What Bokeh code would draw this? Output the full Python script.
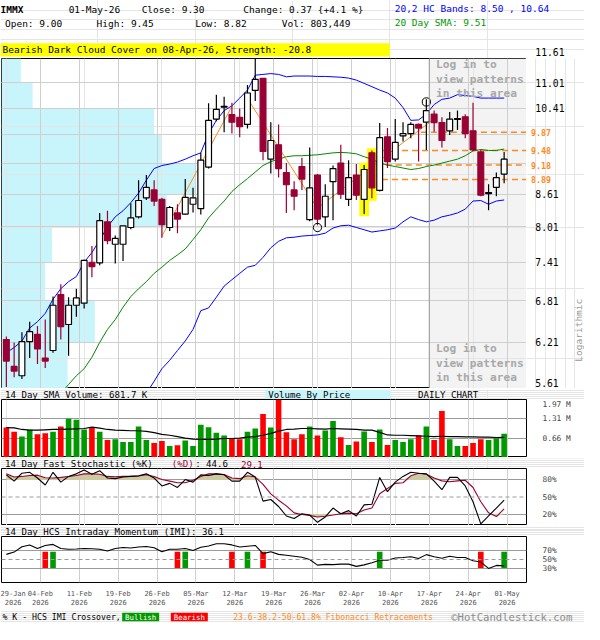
import math
from bokeh.plotting import figure
from bokeh.layouts import column, row
from bokeh.models import ColumnDataSource, FixedTicker, Label, Span, Range1d, Grid
from bokeh.embed import file_html
from bokeh.resources import INLINE
from bokeh.core.properties import value

nan = float("nan")

# ---------------- data ----------------
tick_dates = ["29-Jan", "04-Feb", "11-Feb", "19-Feb", "26-Feb", "05-Mar", "12-Mar",
              "19-Mar", "26-Mar", "02-Apr", "10-Apr", "17-Apr", "24-Apr", "01-May"]
tick_year = "2026"

opens = [6.25, 5.89, 5.77, 6.22, 6.32, 6.00, 6.10, 6.90, 6.46, 6.74,
         6.77, 7.41, 7.40, 8.10, 7.71, 7.71, 8.00, 8.19, 8.54, 8.69,
         8.51, 8.00, 8.26, 8.24, 8.42, 8.34, 9.14, 10.16, 10.43, 10.26,
         10.20, 10.04, 10.82, 11.11, 9.30, 9.60, 9.03, 8.69, 9.15, 8.14,
         8.98, 8.19, 8.85, 9.22, 8.51, 8.98, 8.51, 9.43, 8.68, 9.77,
         9.30, 9.79, 9.84, 10.04, 10.09, 10.27, 10.08, 9.90, 10.15, 10.21,
         9.90, 9.45, 8.62, 8.74, 9.00]
highs = [6.29, 6.21, 6.35, 6.50, 6.44, 6.53, 6.87, 7.06, 6.86, 6.99,
         7.45, 7.68, 8.26, 8.30, 7.86, 8.03, 8.44, 8.88, 8.98, 8.88,
         8.54, 8.39, 8.42, 8.90, 8.73, 9.43, 10.52, 10.72, 10.67, 10.53,
         10.40, 10.95, 11.61, 11.12, 10.09, 10.04, 9.22, 8.86, 9.33, 9.54,
         9.00, 8.80, 9.17, 9.60, 9.28, 9.20, 9.18, 9.48, 10.07, 9.96,
         10.16, 10.09, 10.09, 10.06, 10.61, 10.35, 10.20, 10.32, 10.35, 10.27,
         10.53, 9.50, 8.80, 9.03, 9.45]
lows = [5.63, 5.75, 5.73, 6.00, 5.92, 5.87, 6.07, 6.25, 6.03, 6.57,
        6.69, 7.17, 7.36, 7.71, 7.39, 7.43, 7.97, 8.16, 8.50, 8.39,
        7.82, 7.94, 7.90, 8.23, 8.27, 8.23, 9.11, 10.11, 9.87, 9.84,
        9.76, 9.95, 10.57, 9.28, 9.01, 8.93, 8.26, 8.31, 8.69, 8.11,
        8.04, 8.01, 8.13, 8.52, 8.39, 8.50, 8.24, 8.53, 8.66, 9.12,
        9.25, 9.67, 9.74, 9.25, 9.49, 9.88, 9.54, 9.81, 9.92, 9.74,
        9.47, 8.57, 8.31, 8.57, 8.82]
closes = [5.96, 5.83, 6.22, 6.36, 6.12, 5.96, 6.74, 6.43, 6.74, 6.85,
          7.44, 7.34, 8.12, 7.77, 7.81, 8.03, 8.17, 8.49, 8.74, 8.48,
          8.05, 8.36, 8.15, 8.55, 8.54, 9.28, 10.13, 10.38, 10.45, 10.09,
          9.99, 10.76, 11.09, 9.46, 9.69, 9.11, 8.79, 8.57, 8.90, 8.73,
          8.15, 8.57, 9.11, 8.61, 8.93, 8.59, 9.09, 8.73, 9.75, 9.25,
          9.65, 9.84, 10.04, 9.96, 10.35, 10.08, 9.69, 10.16, 10.17, 9.84,
          9.49, 8.59, 8.64, 8.93, 9.30]

upper_band = [6.07, 6.14, 6.23, 6.41, 6.50, 6.62, 6.83, 6.99, 7.10, 7.18,
              7.41, 7.57, 7.78, 8.01, 8.19, 8.30, 8.45, 8.63, 8.88, 9.11,
              9.17, 9.20, 9.24, 9.30, 9.37, 9.43, 9.84, 10.13, 10.35, 10.46,
              10.64, 10.83, 11.19, 11.21, 11.23, 11.21, 11.15, 11.17, 11.17, 11.17,
              11.16, 11.16, 11.15, 11.14, 11.12, 11.07, 10.99, 10.91, 10.83, 10.76,
              10.64, 10.42, 10.13, 10.14, 10.27, 10.49, 10.61, 10.64, 10.72, 10.70,
              10.68, 10.64, 10.64, 10.64, 10.64]
lower_band = [nan] * 18 + [5.55,
              5.70, 5.86, 5.97, 6.10, 6.23, 6.39, 6.66, 6.70, 6.86, 7.03,
              7.13, 7.23, 7.33, 7.36, 7.49, 7.65, 7.76, 7.82, 7.83, 7.85,
              7.86, 7.87, 7.90, 7.99, 8.03, 8.04, 8.00, 7.96, 7.92, 7.94,
              7.96, 7.99, 8.10, 8.19, 8.14, 8.10, 8.13, 8.19, 8.22, 8.26,
              8.33, 8.48, 8.49, 8.42, 8.48, 8.50]
sma20 = [nan] * 7 + [5.55, 5.66, 5.77, 5.86, 6.01, 6.21, 6.39, 6.53, 6.71, 6.87,
         6.99, 7.10, 7.23, 7.33, 7.44, 7.53, 7.63, 7.79, 7.96, 8.17,
         8.33, 8.48, 8.66, 8.79, 8.91, 9.04, 9.17, 9.25, 9.30, 9.35,
         9.37, 9.37, 9.38, 9.39, 9.41, 9.43, 9.44, 9.43, 9.41, 9.35,
         9.30, 9.22, 9.18, 9.15, 9.12, 9.09, 9.11, 9.15, 9.18, 9.22,
         9.26, 9.30, 9.37, 9.47, 9.50, 9.48, 9.48, 9.51]

volume_m = [1.018, 0.876, 0.711, 0.941, 0.788, 0.821, 0.876, 1.051, 1.313, 1.280,
            0.952, 1.040, 0.876, 0.591, 0.624, 0.525, 0.525, 1.051, 0.591, 0.492,
            0.558, 0.394, 0.416, 0.580, 0.394, 1.116, 1.029, 0.843, 0.744, 0.646,
            0.624, 0.876, 0.985, 1.477, 1.018, 1.970, 0.854, 0.624, 0.788, 1.051,
            0.744, 0.919, 1.237, 0.689, 0.427, 0.547, 0.886, 0.525, 0.952, 0.427,
            0.591, 0.525, 0.624, 0.744, 1.051, 0.591, 1.576, 0.624, 0.394, 0.394,
            0.492, 0.624, 0.591, 0.657, 0.803]
vol_sma14 = [1.018, 1.007, 0.952, 0.930, 0.930, 0.941, 0.952, 0.952, 0.963, 0.974,
             0.985, 1.029, 0.996, 0.952, 0.930, 0.919, 0.908, 0.908, 0.886, 0.843,
             0.788, 0.755, 0.711, 0.657, 0.624, 0.613, 0.613, 0.624, 0.646, 0.646,
             0.657, 0.689, 0.711, 0.755, 0.821, 0.897, 0.952, 0.963, 0.985, 0.985,
             0.974, 0.963, 0.985, 0.974, 0.963, 0.952, 0.930, 0.930, 0.854, 0.766,
             0.755, 0.755, 0.744, 0.733, 0.722, 0.711, 0.722, 0.711, 0.711, 0.700,
             0.700, 0.689, 0.689, 0.679, 0.682]

stoch_k = [88.9, 77.8, 91.7, 93.3, 83.3, 71.1, 93.3, 76.1, 86.1, 90.6,
           97.2, 90.0, 96.1, 83.3, 82.2, 85.0, 86.1, 87.2, 90.6, 83.3,
           69.4, 73.9, 66.7, 80.6, 76.1, 88.9, 87.8, 90.6, 88.9, 77.8,
           77.8, 93.3, 85.0, 42.8, 45.6, 33.3, 16.7, 12.2, 20.6, 18.3,
           5.6, 15.0, 30.6, 20.6, 26.1, 16.7, 36.1, 37.2, 84.4, 59.4,
           76.1, 86.1, 93.3, 91.7, 90.6, 77.8, 62.8, 84.4, 84.4, 69.4,
           41.7, 2.8, 16.7, 30.6, 44.6]
stoch_d = [90.6, 85.0, 86.1, 87.8, 88.3, 83.9, 83.3, 84.4, 86.1, 87.8,
           90.6, 90.6, 90.0, 86.1, 85.6, 86.1, 86.1, 86.7, 88.9, 86.1,
           80.6, 77.8, 75.0, 75.0, 79.4, 86.1, 90.6, 90.6, 89.4, 83.3,
           82.2, 87.2, 85.0, 72.2, 55.6, 44.4, 34.4, 22.2, 19.4, 17.8,
           15.0, 16.1, 18.3, 20.6, 21.7, 20.6, 27.2, 30.6, 55.6, 65.0,
           73.9, 75.0, 87.2, 91.7, 90.0, 83.3, 78.3, 76.7, 78.3, 79.4,
           66.7, 41.7, 22.2, 15.6, 29.1]
imi = [61.1, 66.1, 77.8, 81.7, 73.9, 80.6, 82.8, 73.9, 72.2, 72.8,
       73.9, 73.3, 72.2, 68.3, 73.9, 76.1, 75.0, 77.2, 78.3, 75.6,
       66.7, 72.2, 72.2, 73.9, 69.4, 76.7, 79.4, 84.4, 84.4, 81.7,
       77.2, 78.9, 80.6, 62.8, 66.7, 61.1, 59.4, 57.2, 55.0, 50.0,
       37.8, 39.4, 38.9, 40.0, 40.0, 35.0, 38.3, 42.8, 48.3, 48.3,
       53.3, 54.4, 56.1, 52.2, 60.6, 56.1, 52.8, 57.2, 54.4, 54.4,
       47.2, 44.4, 30.6, 37.2, 36.1]

xover_idx = [5, 6, 22, 23, 29, 31, 33, 48, 61, 64]
xover_kind = ["bear", "bull", "bear", "bull", "bear", "bull", "bear", "bull", "bear", "bull"]
xover_low, xover_high = 31.7, 66.7

price_ticks = [5.61, 6.21, 6.81, 7.41, 8.01, 8.61, 9.21, 9.81, 10.41, 11.01, 11.61]
hidden_price_ticks = [9.21, 9.81]
vbp_share = [34, 48, 22.5, 26, 85, 100, 82, 78.5, 16, 10]   # bins from 5.61 upwards
fib_levels = [9.87, 9.48, 9.18, 8.89]
fib_labels = ["9.87", "9.48", "9.18", "8.89"]
fib_start = [53.3, 48.3, 47.5, 48.3]
zigzag = [([20, 29], [7.85, 10.45]), ([31, 40], [10.63, 8.35]), ([40, 54.75], [8.35, 10.13])]
pivot_idx = [40, 54]
pivot_price = [8.00, 10.55]
pattern_idx = [46, 47]
vol_ticks = [0.66, 1.31, 1.97]
stoch_ticks = [20, 50, 80]
imi_ticks = [30, 50, 70]

# ---------------- styling ----------------
S = 584 / 600
FONT = "DejaVu Sans Mono"
MAROON = "#990033"
GREEN = "#009900"
RED = "#ff0000"
ORANGE = "#ff8a1c"
GRID = "#cfcfcf"
DARKGRID = "#9a9a9a"
CYAN = "#c8f5fc"
TITLE_FS = 9.4


def fpx(v):
    return f"{v * S:.1f}px"


n = len(closes)
idx = list(range(n))
X_LO, X_HI = -0.625, 66.875
xr = Range1d(X_LO, X_HI)
grid_x = [5 * k - 0.625 for k in range(len(tick_dates))]
FRAME_W = 525           # pixel width of every panel frame
RIGHT_W = 58            # pixel width of the label strip on the right


def xref(px):
    return (px - 5) / 8.0


P_LO, P_HI = price_ticks[0], price_ticks[-1]

# pixel rows of the stacked figures
ROWS = [58, 330, 11, 58, 11, 57, 11, 74, 13]
EDGES = [0]
for h in ROWS:
    EDGES.append(EDGES[-1] + h)


def row_mid(r):
    return (EDGES[r] + EDGES[r + 1]) / 2 / S


def text_fig(r):
    y0, y1 = EDGES[r] / S, EDGES[r + 1] / S
    t = figure(width=584, height=ROWS[r], x_range=Range1d(0, 600), y_range=Range1d(y1, y0),
               x_axis_location=None, y_axis_location=None, output_backend="svg",
               toolbar_location=None, min_border=0, min_border_left=0, min_border_right=0,
               min_border_top=0, min_border_bottom=0, frame_align=False)
    t.outline_line_color = None
    t.background_fill_color = "white"
    t.border_fill_color = "white"
    return t


def ttext(t, x, y, s, size, color="black", bold=False, align="left", baseline="middle"):
    t.text(x=[x], y=[y], text=[s], text_font=value(FONT), text_font_size=value(fpx(size)),
           text_color=color, text_font_style="bold" if bold else "normal",
           text_align=align, text_baseline=baseline)


def style_frame(p):
    p.outline_line_color = "black"
    p.outline_line_width = 1
    p.background_fill_color = "white"
    p.border_fill_color = "white"


def make_fig(r, y_range, x_axis=False, bottom=0):
    p = figure(width=584, height=ROWS[r], x_range=xr, y_range=y_range,
               y_axis_location="right", x_axis_location="below" if x_axis else None,
               output_backend="svg", toolbar_location=None,
               min_border_left=1, min_border_right=RIGHT_W, min_border_top=0,
               min_border_bottom=bottom, frame_align=False)
    style_frame(p)
    ax = p.yaxis[0]
    ax.axis_line_color = None
    ax.major_tick_line_color = None
    ax.minor_tick_line_color = None
    ax.major_label_text_font = FONT
    ax.major_label_text_font_size = fpx(8)
    ax.major_label_standoff = 10
    if not x_axis:
        p.add_layout(Grid(dimension=0, ticker=FixedTicker(ticks=grid_x), grid_line_color=GRID))
    return p


# ================= header =================
H = text_fig(0)
ttext(H, 0, 9, "IMMX", TITLE_FS + 0.4, bold=True)
ttext(H, 70, 9, "01-May-26", TITLE_FS + 0.4)
ttext(H, 145, 9, "Close: 9.30", TITLE_FS + 0.4)
ttext(H, 249.5, 9, "Change: 0.37 {+4.1 %}", TITLE_FS + 0.4)
ttext(H, 4.6, 24, "Open: 9.00", TITLE_FS + 0.4)
ttext(H, 98.7, 24, "High: 9.45", TITLE_FS + 0.4)
ttext(H, 200, 24, "Low: 8.82", TITLE_FS + 0.4)
ttext(H, 289, 24, "Vol: 803,449", TITLE_FS + 0.4)
ttext(H, 405, 8, "20,2 HC Bands: 8.50 , 10.64", TITLE_FS + 0.4, color="#0000ff")
ttext(H, 405, 23, "20 Day SMA: 9.51", TITLE_FS + 0.4, color="#009900")
H.quad(left=[0], right=[400], top=[44], bottom=[57.5], fill_color="#ffff00", line_color=None)
ttext(H, 2, 50.8, "Bearish Dark Cloud Cover on 08-Apr-26, Strength: -20.8", TITLE_FS + 0.4)
ttext(H, 549.5, 52.5, f"{price_ticks[-1]:.2f}", 10)

# ================= price panel =================
yr1 = Range1d(P_LO, P_HI)
p1 = figure(width=1 + FRAME_W, height=ROWS[1], x_range=xr, y_range=yr1, y_axis_type="log",
            x_axis_location=None, y_axis_location=None, output_backend="svg",
            toolbar_location=None, min_border_left=1, min_border_right=0,
            min_border_top=0, min_border_bottom=0, frame_align=False)
style_frame(p1)
p1.add_layout(Grid(dimension=0, ticker=FixedTicker(ticks=grid_x), grid_line_color=GRID))
p1.add_layout(Grid(dimension=1, ticker=FixedTicker(ticks=price_ticks), grid_line_color=GRID))

vbp_w = 25.0
p1.quad(left=[X_LO] * len(vbp_share),
        right=[X_LO + s / 100.0 * vbp_w for s in vbp_share],
        bottom=price_ticks[:-1], top=price_ticks[1:],
        fill_color=CYAN, line_color=None, level="image")
p1.quad(left=[grid_x[-3]], right=[X_HI], bottom=[P_LO], top=[P_HI],
        fill_color="#f3f3f3", line_color=None, level="image")
p1.add_layout(Span(location=grid_x[-3], dimension="height", line_color="#999999", line_width=1))

p1.quad(left=[i - 0.62 for i in pattern_idx], right=[i + 0.62 for i in pattern_idx],
        bottom=[lows[i] * 0.995 for i in pattern_idx], top=[highs[i] * 1.005 for i in pattern_idx],
        fill_color="#ffff00", line_color=None)

p1.segment(x0=fib_start, x1=[X_HI] * len(fib_levels), y0=fib_levels, y1=fib_levels,
           line_color=ORANGE, line_width=1.5, line_dash="6 4")

p1.line(idx, upper_band, line_color="#0000ff", line_width=1)
p1.line(idx, lower_band, line_color="#0000ff", line_width=1)
p1.line(idx, sma20, line_color="#008800", line_width=1)
for zx, zy in zigzag:
    p1.line(zx, zy, line_color=ORANGE, line_width=1)

bull = [c >= o for o, c in zip(opens, closes)]
src = ColumnDataSource(dict(
    x=idx, high=highs, low=lows,
    top=[max(o, c) for o, c in zip(opens, closes)],
    bottom=[min(o, c) for o, c in zip(opens, closes)],
    fill=["white" if b else MAROON for b in bull],
    line=["black" if b else MAROON for b in bull],
    vcol=[GREEN if b else RED for b in bull],
    vol=volume_m,
))
p1.segment(x0="x", x1="x", y0="low", y1="high", line_color="line", line_width=1.2, source=src)
p1.vbar(x="x", width=0.75, top="top", bottom="bottom", fill_color="fill",
        line_color="line", line_width=1.2, source=src)
p1.scatter(pivot_idx, pivot_price, marker="circle", size=8.5 * S, fill_color=None,
           line_color="black", line_width=1)

REF_TOP, REF_BOT = 60.5, 400.0
KLOG = (REF_BOT - REF_TOP) / math.log(P_HI / P_LO)


def yprice(py):
    return math.exp(math.log(P_HI) - (py - REF_TOP) / KLOG)


for k, t in enumerate(["Log in to", "view patterns", "in this area"]):
    for top_px in (67, 359):
        p1.add_layout(Label(x=xref(447), y=yprice(top_px + 15 * k), text=t, text_font=FONT,
                            text_font_size=fpx(11.5), text_color="#a8a8a8",
                            text_font_style="bold", text_baseline="middle"))

# right label strip of the price panel (shares the log price scale)
R1 = figure(width=RIGHT_W, height=ROWS[1], x_range=Range1d(540.4, 600), y_range=yr1,
            y_axis_type="log", x_axis_location=None, y_axis_location=None,
            output_backend="svg", toolbar_location=None, min_border=0, min_border_left=0,
            min_border_right=0, min_border_top=0, min_border_bottom=0, frame_align=False)
R1.outline_line_color = None
R1.background_fill_color = "white"
R1.border_fill_color = "white"
shown = [t for t in price_ticks[1:-1] if t not in hidden_price_ticks]
R1.text(x=[549.5] * len(shown), y=shown, text=[f"{t:.2f}" for t in shown],
        text_font=value(FONT), text_font_size=value(fpx(10)), text_color="black",
        text_baseline="alphabetic", text_align="left")
R1.text(x=[549.5], y=[price_ticks[0]], text=[f"{price_ticks[0]:.2f}"],
        text_font=value(FONT), text_font_size=value(fpx(10)), text_color="black",
        text_baseline="bottom", y_offset=-2, text_align="left")
R1.text(x=[545] * len(fib_levels), y=fib_levels, text=fib_labels, text_font=value(FONT),
        text_font_size=value(fpx(8.6)), text_color=ORANGE, text_font_style="bold",
        text_baseline="middle", text_align="left")
R1.text(x=[594], y=[yprice(340)], text=["Logarithmic"], text_font=value(FONT),
        text_font_size=value(fpx(9.8)), text_color="#999999", angle=math.pi / 2,
        text_baseline="middle", text_align="center")

# ================= volume =================
T2 = text_fig(2)
m2 = row_mid(2)
ttext(T2, 4.6, m2, "14 Day SMA Volume: 681.7 K", TITLE_FS)
T2.quad(left=[272], right=[401], top=[EDGES[2] / S], bottom=[EDGES[3] / S],
        fill_color=CYAN, line_color=None)
ttext(T2, 275, m2, "Volume By Price", TITLE_FS)
ttext(T2, 429, m2, "DAILY CHART", TITLE_FS)

p2 = make_fig(3, Range1d(0, vol_ticks[-1]))
ax = p2.yaxis[0]
ax.ticker = FixedTicker(ticks=vol_ticks)
ax.major_label_overrides = {t: f"{t:.2f} M" for t in vol_ticks}
ax.major_label_text_baseline = "top"
p2.ygrid.ticker = FixedTicker(ticks=vol_ticks[:-1])
p2.ygrid.grid_line_color = DARKGRID
p2.vbar(x="x", top="vol", bottom=0, width=0.72, fill_color="vcol", line_color=None, source=src)
p2.line(idx, vol_sma14, line_color="black", line_width=1.2)

# ================= stochastic =================
T3 = text_fig(4)
m3 = row_mid(4)
ttext(T3, 4.6, m3, "14 Day Fast Stochastic (%K)", TITLE_FS)
ttext(T3, 176, m3, "(%D)", TITLE_FS, color=MAROON)
ttext(T3, 200, m3, ": 44.6", TITLE_FS)
ttext(T3, 247, m3, "29.1", TITLE_FS, color=MAROON)

p3 = make_fig(5, Range1d(0, 100))
ax = p3.yaxis[0]
ax.ticker = FixedTicker(ticks=stoch_ticks)
ax.major_label_overrides = {t: f"{t}%" for t in stoch_ticks}
p3.ygrid.ticker = FixedTicker(ticks=[stoch_ticks[0], stoch_ticks[-1]])
p3.ygrid.grid_line_color = DARKGRID
p3.add_layout(Span(location=stoch_ticks[1], dimension="width", line_color=DARKGRID,
                   line_dash="4 3", line_width=1))
hi_lvl, lo_lvl = stoch_ticks[-1], stoch_ticks[0]
p3.varea(x=idx, y1=[hi_lvl] * n, y2=[max(d, hi_lvl) for d in stoch_d], fill_color="#cdc9a0")
p3.varea(x=idx, y1=[lo_lvl] * n, y2=[min(d, lo_lvl) for d in stoch_d], fill_color="#cdc9a0")
p3.line(idx, stoch_d, line_color=MAROON, line_width=1.1)
p3.line(idx, stoch_k, line_color="black", line_width=1.1)

# ================= IMI =================
T4 = text_fig(6)
ttext(T4, 4.6, row_mid(6), "14 Day HCS Intraday Momentum (IMI): 36.1", TITLE_FS)

p4 = make_fig(7, Range1d(0, 100), x_axis=True, bottom=17)
ax = p4.yaxis[0]
ax.ticker = FixedTicker(ticks=imi_ticks)
ax.major_label_overrides = {t: f"{t}%" for t in imi_ticks}
p4.ygrid.ticker = FixedTicker(ticks=[imi_ticks[0], imi_ticks[-1]])
p4.ygrid.grid_line_color = DARKGRID
p4.add_layout(Span(location=imi_ticks[1], dimension="width", line_color=DARKGRID,
                   line_dash="4 3", line_width=1))
xa = p4.xaxis[0]
xa.ticker = FixedTicker(ticks=grid_x)
xa.major_label_overrides = {g: f"{d}\n{tick_year}" for g, d in zip(grid_x, tick_dates)}
xa.axis_line_color = None
xa.major_tick_line_color = None
xa.minor_tick_line_color = None
xa.major_label_text_font = FONT
xa.major_label_text_font_size = fpx(7.2)
xa.major_label_text_color = "#555555"
xa.major_label_standoff = 1
p4.xgrid.ticker = FixedTicker(ticks=grid_x)
p4.xgrid.grid_line_color = GRID

p4.quad(left=[i - 0.36 for i in xover_idx], right=[i + 0.36 for i in xover_idx],
        bottom=[xover_low] * len(xover_idx), top=[xover_high] * len(xover_idx),
        fill_color=[GREEN if k == "bull" else RED for k in xover_kind], line_color=None)
p4.line(idx, imi, line_color="black", line_width=1.1)

# ================= footer =================
F = text_fig(8)
mf = row_mid(8)
ttext(F, 2, mf, "% K - HCS IMI Crossover,", 8.4)
F.quad(left=[125, 175], right=[163, 213], top=[mf - 4.3, mf - 4.3], bottom=[mf + 4.3, mf + 4.3],
       fill_color=[GREEN, RED], line_color=None)
ttext(F, 144, mf, "Bullish", 7.6, color="white", align="center")
ttext(F, 194, mf, "Bearish", 7.6, color="white", align="center")
ttext(F, 239, mf, "23.6-38.2-50-61.8% Fibonacci Retracements", 8.3, color=ORANGE)
ttext(F, 463, mf, "\u00a9HotCandlestick.com", 10.9, color="#8c8c8c")

layout = column(H, row(p1, R1, spacing=0), T2, p2, T3, p3, T4, p4, F, spacing=0)
open("out.html", "w").write(file_html(layout, INLINE, title="IMMX"))
